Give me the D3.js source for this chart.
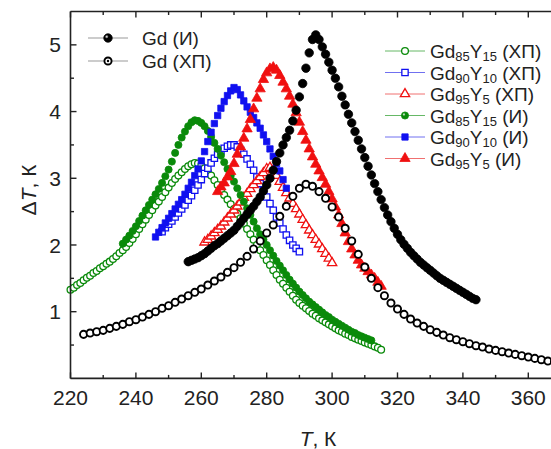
<!DOCTYPE html>
<html><head><meta charset="utf-8">
<script src="https://cdn.jsdelivr.net/npm/d3@7/dist/d3.min.js"></script>
<style>body{margin:0;background:#fff}svg{display:block}</style>
</head><body>
<svg id="c" width="551" height="449"></svg>
<script>
// ---- tick labels ----
const xTicks = [220,240,260,280,300,320,340,360];
const xMinor = [230,250,270,290,310,330,350,370];
const yTicks = [1,2,3,4,5];
const yMinor = [0.5,1.5,2.5,3.5,4.5];

// ---- data: [T, dT] ----
const gd85XP = [[220,1.33],[221,1.36],[222,1.40],[223,1.43],[224,1.47],[225,1.51],[226,1.54],[227,1.58],[228,1.61],[229,1.65],[230,1.68],[231,1.72],[232,1.75],[233,1.79],[234,1.83],[235,1.88],[236,1.92],[237,1.97],[238,2.03],[239,2.09],[240,2.16],[241,2.24],[242,2.31],[243,2.38],[244,2.45],[245,2.52],[246,2.59],[247,2.65],[248,2.72],[249,2.79],[250,2.86],[251,2.93],[252,2.99],[253,3.04],[254,3.09],[255,3.14],[256,3.18],[257,3.21],[258,3.23],[259,3.22],[260,3.19],[261,3.15],[262,3.10],[263,3.04],[264,2.97],[265,2.90],[266,2.82],[267,2.75],[268,2.68],[269,2.61],[270,2.54],[271,2.47],[272,2.40],[273,2.32],[274,2.24],[275,2.16],[276,2.08],[277,2.00],[278,1.92],[279,1.85],[280,1.77],[281,1.70],[282,1.62],[283,1.55],[284,1.48],[285,1.42],[286,1.36],[287,1.30],[288,1.24],[289,1.18],[290,1.13],[291,1.09],[292,1.05],[293,1.01],[294,0.97],[295,0.94],[296,0.90],[297,0.87],[298,0.84],[299,0.81],[300,0.78],[301,0.75],[302,0.72],[303,0.70],[304,0.67],[305,0.65],[306,0.62],[307,0.60],[308,0.58],[309,0.56],[310,0.54],[311,0.52],[312,0.50],[313,0.48],[314,0.46],[315,0.43]];

const gd90XP = [[248,2.20],[249,2.26],[250,2.31],[251,2.36],[252,2.42],[253,2.48],[254,2.54],[255,2.60],[256,2.67],[257,2.74],[258,2.82],[259,2.90],[260,2.98],[261,3.07],[262,3.15],[263,3.23],[264,3.30],[265,3.36],[266,3.41],[267,3.45],[268,3.48],[269,3.50],[270,3.50],[271,3.47],[272,3.42],[273,3.36],[274,3.29],[275,3.21],[276,3.12],[277,3.02],[278,2.92],[279,2.82],[280,2.72],[281,2.62],[282,2.52],[283,2.42],[284,2.33],[285,2.24],[286,2.15],[287,2.07],[288,2.00],[289,1.95],[290,1.90]];

const gd95XP = [[261,2.04],[262,2.08],[263,2.13],[264,2.18],[265,2.23],[266,2.28],[267,2.34],[268,2.40],[269,2.46],[270,2.52],[271,2.58],[272,2.64],[273,2.71],[274,2.77],[275,2.84],[276,2.90],[277,2.96],[278,3.02],[279,3.08],[280,3.14],[281,3.16],[282,3.12],[283,3.04],[284,2.95],[285,2.86],[286,2.78],[287,2.70],[288,2.62],[289,2.54],[290,2.46],[291,2.38],[292,2.30],[293,2.22],[294,2.15],[295,2.08],[296,2.01],[297,1.94],[298,1.87],[299,1.80],[300,1.73]];

const gd85I = [[236,2.02],[237,2.08],[238,2.14],[239,2.21],[240,2.28],[241,2.36],[242,2.44],[243,2.52],[244,2.60],[245,2.68],[246,2.76],[247,2.84],[248,2.93],[249,3.03],[250,3.13],[251,3.25],[252,3.38],[253,3.50],[254,3.61],[255,3.70],[256,3.78],[257,3.84],[258,3.87],[259,3.86],[260,3.83],[261,3.78],[262,3.71],[263,3.62],[264,3.53],[265,3.44],[266,3.34],[267,3.24],[268,3.14],[269,3.04],[270,2.95],[271,2.85],[272,2.75],[273,2.65],[274,2.55],[275,2.45],[276,2.35],[277,2.25],[278,2.16],[279,2.08],[280,2.00],[281,1.92],[282,1.84],[283,1.76],[284,1.69],[285,1.62],[286,1.55],[287,1.48],[288,1.42],[289,1.36],[290,1.30],[291,1.25],[292,1.20],[293,1.15],[294,1.11],[295,1.07],[296,1.03],[297,0.99],[298,0.95],[299,0.92],[300,0.88],[301,0.85],[302,0.82],[303,0.79],[304,0.76],[305,0.73],[306,0.70],[307,0.68],[308,0.65],[309,0.63],[310,0.61],[311,0.59],[312,0.57]];

const gd90I = [[246,2.12],[247,2.19],[248,2.26],[249,2.33],[250,2.40],[251,2.47],[252,2.54],[253,2.61],[254,2.68],[255,2.76],[256,2.85],[257,2.94],[258,3.04],[259,3.14],[260,3.26],[261,3.40],[262,3.55],[263,3.69],[264,3.82],[265,3.94],[266,4.05],[267,4.15],[268,4.24],[269,4.31],[270,4.36],[271,4.33],[272,4.25],[273,4.16],[274,4.07],[275,3.99],[276,3.91],[277,3.83],[278,3.75],[279,3.65],[280,3.55],[281,3.44],[282,3.33],[283,3.22],[284,3.11],[285,2.98],[286,2.85]];

const gd95I = [[265,2.80],[266,2.87],[267,2.93],[268,3.02],[269,3.10],[270,3.22],[271,3.36],[272,3.47],[273,3.60],[274,3.74],[275,3.88],[276,4.04],[277,4.20],[278,4.34],[279,4.48],[280,4.58],[281,4.64],[282,4.66],[283,4.62],[284,4.54],[285,4.44],[286,4.34],[287,4.23],[288,4.11],[289,3.98],[290,3.84],[291,3.70],[292,3.57],[293,3.44],[294,3.32],[295,3.21],[296,3.11],[297,3.01],[298,2.91],[299,2.80],[300,2.69],[301,2.57],[302,2.45],[303,2.32],[304,2.18],[305,2.05],[306,1.94],[307,1.85],[308,1.77],[309,1.70],[310,1.65],[311,1.60],[312,1.55],[313,1.50],[314,1.44],[315,1.38]];

const gdI = [[256,1.75],[257,1.77],[258,1.79],[259,1.81],[260,1.84],[261,1.87],[262,1.91],[263,1.95],[264,1.99],[265,2.02],[266,2.06],[267,2.10],[268,2.14],[269,2.18],[270,2.22],[271,2.28],[272,2.34],[273,2.40],[274,2.46],[275,2.52],[276,2.58],[277,2.65],[278,2.72],[279,2.81],[280,2.90],[281,3.00],[282,3.12],[283,3.25],[284,3.38],[285,3.50],[286,3.61],[287,3.72],[288,3.86],[289,4.02],[290,4.22],[291,4.42],[292,4.65],[293,4.88],[294,5.08],[295,5.15],[296,5.08],[297,4.97],[298,4.86],[299,4.74],[300,4.62],[301,4.50],[302,4.37],[303,4.23],[304,4.10],[305,3.96],[306,3.83],[307,3.70],[308,3.57],[309,3.44],[310,3.31],[311,3.18],[312,3.05],[313,2.92],[314,2.80],[315,2.68],[316,2.56],[317,2.45],[318,2.35],[319,2.25],[320,2.16],[321,2.08],[322,2.01],[323,1.95],[324,1.89],[325,1.84],[326,1.79],[327,1.74],[328,1.70],[329,1.66],[330,1.62],[331,1.58],[332,1.54],[333,1.50],[334,1.47],[335,1.44],[336,1.41],[337,1.38],[338,1.35],[339,1.32],[340,1.29],[341,1.26],[342,1.23],[343,1.20],[344,1.18]];

const gdXP = [[224,0.66],[226,0.68],[228,0.70],[230,0.72],[232,0.75],[234,0.78],[236,0.81],[238,0.85],[240,0.88],[242,0.92],[244,0.96],[246,1.00],[248,1.05],[250,1.09],[252,1.14],[254,1.19],[256,1.24],[258,1.29],[260,1.34],[262,1.40],[264,1.46],[266,1.52],[268,1.59],[270,1.66],[272,1.74],[274,1.83],[276,1.94],[278,2.06],[280,2.18],[282,2.30],[284,2.43],[286,2.58],[288,2.73],[290,2.85],[292,2.91],[294,2.88],[296,2.80],[298,2.70],[300,2.57],[302,2.42],[304,2.25],[306,2.06],[308,1.86],[310,1.67],[312,1.50],[314,1.36],[316,1.24],[318,1.13],[320,1.04],[322,0.96],[324,0.89],[326,0.83],[328,0.78],[330,0.73],[332,0.69],[334,0.65],[336,0.61],[338,0.58],[340,0.55],[342,0.52],[344,0.49],[346,0.47],[348,0.44],[350,0.42],[352,0.40],[354,0.38],[356,0.36],[358,0.34],[360,0.32],[362,0.30],[364,0.28],[366,0.26],[368,0.25],[370,0.24]];

// ---- chart ----
const svg = d3.select("#c");
const W = 551, H = 449;
const m = {left:70.5, top:11.5, right:561, bottom:378.4};
const x = d3.scaleLinear().domain([220,370]).range([m.left, m.right]);
const y = d3.scaleLinear().domain([0,5.5]).range([m.bottom, m.top]);
const FONT = "'Liberation Sans', Arial, sans-serif";
const GREEN = "#0a8a0a", BLUE = "#1010f0", RED = "#f01010", BLACK = "#000";

const defs = svg.append("defs");
function sphere(id, c) {
  const g = defs.append("radialGradient").attr("id", id).attr("cx","35%").attr("cy","35%").attr("r","65%");
  g.append("stop").attr("offset","0%").attr("stop-color","#fff");
  g.append("stop").attr("offset","35%").attr("stop-color",c);
  g.append("stop").attr("offset","100%").attr("stop-color",c);
}
sphere("sphG", GREEN); sphere("sphK", "#000");

const series = [
  {data: gd85XP, shape: d3.symbolCircle, size: 36, fill: "#fff", stroke: GREEN, sw: 1.3},
  {data: gd90XP, shape: d3.symbolSquare, size: 40, fill: "#fff", stroke: BLUE, sw: 1.3},
  {data: gd95XP, shape: d3.symbolTriangle, size: 38, fill: "#fff", stroke: RED, sw: 1.3},
  {data: gd85I, shape: d3.symbolCircle, size: 40, fill: GREEN, stroke: GREEN, sw: 0.8},
  {data: gd90I, shape: d3.symbolSquare, size: 40, fill: BLUE, stroke: BLUE, sw: 0.8},
  {data: gd95I, shape: d3.symbolTriangle, size: 46, fill: RED, stroke: RED, sw: 0.8},
  {data: gdI, shape: d3.symbolCircle, size: 56, fill: BLACK, stroke: BLACK, sw: 0.8},
  {data: gdXP, shape: d3.symbolCircle, size: 40, fill: "#fff", stroke: BLACK, sw: 1.9},
];

const plot = svg.append("g");
series.forEach(s => {
  const sym = d3.symbol().type(s.shape).size(s.size);
  plot.append("g").selectAll("path").data(s.data).join("path")
    .attr("d", sym)
    .attr("transform", d => `translate(${x(d[0])},${y(d[1])})`)
    .attr("fill", s.fill).attr("stroke", s.stroke).attr("stroke-width", s.sw);
});

// ---- axes ----
const ax = svg.append("g").attr("stroke", "#222").attr("stroke-width", 1.6).attr("fill","none");
ax.append("line").attr("x1", m.left).attr("x2", m.right).attr("y1", m.bottom).attr("y2", m.bottom);
ax.append("line").attr("x1", m.left).attr("x2", m.right).attr("y1", m.top).attr("y2", m.top);
ax.append("line").attr("x1", m.left).attr("x2", m.left).attr("y1", m.top).attr("y2", m.bottom);
const tk = svg.append("g").attr("stroke", "#222").attr("stroke-width", 1.4);
xTicks.forEach(v => {
  tk.append("line").attr("x1", x(v)).attr("x2", x(v)).attr("y1", m.bottom).attr("y2", m.bottom-6);
  tk.append("line").attr("x1", x(v)).attr("x2", x(v)).attr("y1", m.top).attr("y2", m.top+6);
});
xMinor.forEach(v => {
  tk.append("line").attr("x1", x(v)).attr("x2", x(v)).attr("y1", m.bottom).attr("y2", m.bottom-3.5);
  tk.append("line").attr("x1", x(v)).attr("x2", x(v)).attr("y1", m.top).attr("y2", m.top+3.5);
});
yTicks.forEach(v => tk.append("line").attr("x1", m.left).attr("x2", m.left+6).attr("y1", y(v)).attr("y2", y(v)));
yMinor.forEach(v => tk.append("line").attr("x1", m.left).attr("x2", m.left+3.5).attr("y1", y(v)).attr("y2", y(v)));

const lab = svg.append("g").attr("font-family", FONT).attr("fill", "#222").attr("font-size", 21);
xTicks.forEach(v => lab.append("text").attr("x", x(v)).attr("y", 405).attr("text-anchor","middle").text(v));
yTicks.forEach(v => lab.append("text").attr("x", 61).attr("y", y(v)).attr("dy","0.36em").attr("text-anchor","end").text(v));

const xt = lab.append("text").attr("x", 318).attr("y", 446).attr("text-anchor","middle");
xt.append("tspan").attr("font-style","italic").text("T");
xt.append("tspan").text(", К");
const yt = lab.append("text").attr("transform","translate(36,190) rotate(-90)").attr("text-anchor","middle");
yt.append("tspan").text("Δ");
yt.append("tspan").attr("font-style","italic").text("T");
yt.append("tspan").text(", К");

// ---- legends ----
const legend1 = [
  {label: "Gd (И)", s: series[6], legFill: "url(#sphK)"},
  {label: "Gd (ХП)", s: series[7], dot: true},
];
const legend2 = [
  {main: ["Gd","85","Y","15"], tag: " (ХП)", s: series[0], line: "#66b866"},
  {main: ["Gd","90","Y","10"], tag: " (ХП)", s: series[1], line: "#7070f0"},
  {main: ["Gd","95","Y","5"], tag: " (ХП)", s: series[2], line: "#f07070"},
  {main: ["Gd","85","Y","15"], tag: " (И)", s: series[3], line: "#66b866", legFill: "url(#sphG)"},
  {main: ["Gd","90","Y","10"], tag: " (И)", s: series[4], line: "#7070f0"},
  {main: ["Gd","95","Y","5"], tag: " (И)", s: series[5], line: "#f07070"},
];

function legendMarker(g, it, cx, cy) {
  const s = it.s;
  g.append("path").attr("d", d3.symbol().type(s.shape).size(s.size)())
    .attr("transform", `translate(${cx},${cy})`)
    .attr("fill", it.legFill || s.fill).attr("stroke", s.stroke).attr("stroke-width", s.sw);
  if (it.dot) g.append("circle").attr("cx", cx).attr("cy", cy).attr("r", 1.2).attr("fill", "#000");
}

const lg1 = svg.append("g");
legend1.forEach((it, i) => {
  const cy = 38 + i*23;
  lg1.append("line").attr("x1", 88).attr("x2", 128).attr("y1", cy).attr("y2", cy).attr("stroke", "#999").attr("stroke-width", 1);
  legendMarker(lg1, it, 108, cy);
  lg1.append("text").attr("x", 142).attr("y", cy).attr("dy","0.36em").attr("font-family", FONT).attr("font-size", 19).attr("fill","#222").text(it.label);
});

const lg2 = svg.append("g");
legend2.forEach((it, i) => {
  const cy = 51 + i*21.5;
  lg2.append("line").attr("x1", 385).attr("x2", 425).attr("y1", cy).attr("y2", cy).attr("stroke", it.line).attr("stroke-width", 1);
  legendMarker(lg2, it, 405, cy);
  const t = lg2.append("text").attr("x", 430).attr("y", cy+7).attr("font-family", FONT).attr("font-size", 19).attr("fill","#222");
  t.append("tspan").text(it.main[0]);
  t.append("tspan").attr("font-size", 13).attr("dy", 3).text(it.main[1]);
  t.append("tspan").attr("dy", -3).text(it.main[2]);
  t.append("tspan").attr("font-size", 13).attr("dy", 3).text(it.main[3]);
  t.append("tspan").attr("dy", -3).text(it.tag);
});
</script>
</body></html>
